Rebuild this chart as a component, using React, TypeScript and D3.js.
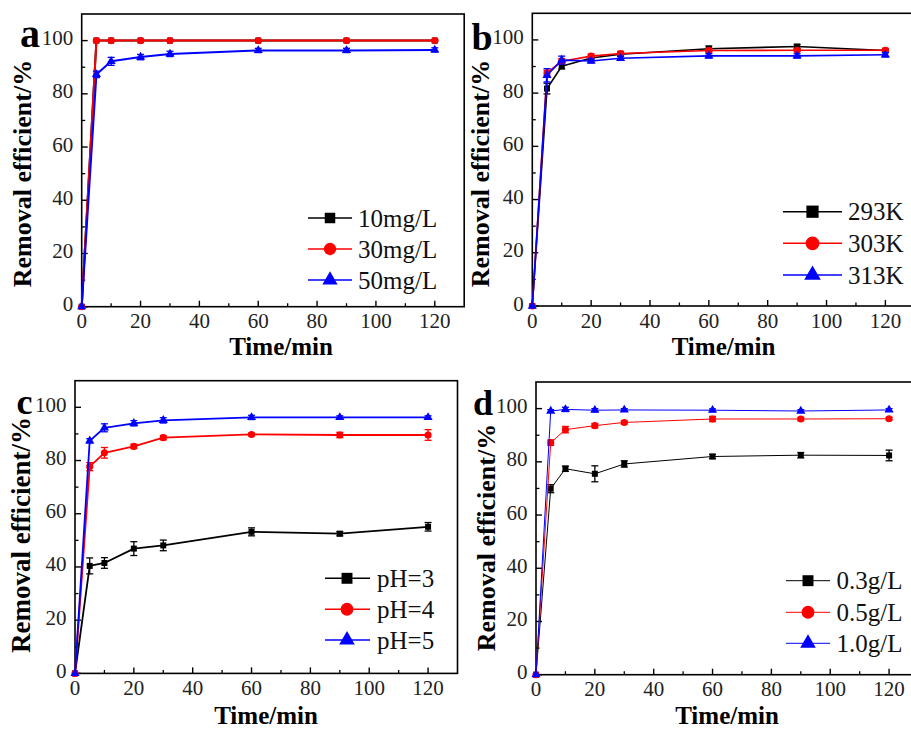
import React from "react";
import * as d3 from "d3";

// ---------- data ----------
const TIMES = [0, 5, 10, 20, 30, 60, 90, 120];
const X_TICKS = [0, 20, 40, 60, 80, 100, 120];
const X_MINOR = [10, 30, 50, 70, 90, 110];
const Y_TICKS = [0, 20, 40, 60, 80, 100];
const Y_MINOR = [10, 30, 50, 70, 90];
const PANEL_LETTERS = ["a", "b", "c", "d"];
const X_TITLE = "Time/min";
const Y_TITLE = "Removal efficient/%";

const A_LABELS = ["10mg/L", "30mg/L", "50mg/L"];
const A_10 = [0, 100, 100, 100, 100, 100, 100, 100];
const A_30 = [0, 100, 100, 100, 100, 100, 100, 100];
const A_50 = [0, 87.3, 92.2, 93.8, 95.0, 96.3, 96.3, 96.5];
const A_10_ERR = [0, 0.3, 0.3, 0.3, 0.3, 0.3, 0.3, 0.3];
const A_30_ERR = [0, 0.3, 0.3, 0.3, 0.3, 0.3, 0.3, 0.3];
const A_50_ERR = [0, 1.2, 1.5, 1.0, 1.0, 0.8, 0.8, 0.8];

const B_LABELS = ["293K", "303K", "313K"];
const B_293 = [0, 81.7, 90.1, 93.2, 94.6, 96.7, 97.5, 96.0];
const B_303 = [0, 87.6, 92.0, 93.9, 94.9, 96.0, 96.1, 96.1];
const B_313 = [0, 86.7, 92.4, 92.1, 93.1, 94.0, 94.0, 94.4];
const B_293_ERR = [0, 2.0, 1.0, 0.8, 0.8, 1.0, 0.8, 0.5];
const B_303_ERR = [0, 1.0, 1.0, 0.8, 0.8, 0.8, 0.5, 0.5];
const B_313_ERR = [0, 2.5, 1.5, 0.8, 0.8, 0.8, 0.8, 0.8];

const C_LABELS = ["pH=3", "pH=4", "pH=5"];
const C_3 = [0, 40.4, 41.5, 46.9, 48.1, 53.2, 52.5, 55.1];
const C_4 = [0, 77.7, 82.9, 85.3, 88.6, 89.8, 89.6, 89.6];
const C_5 = [0, 87.4, 92.3, 94.0, 95.1, 96.2, 96.2, 96.2];
const C_3_ERR = [0, 3.0, 2.0, 2.6, 2.0, 1.5, 0.8, 1.6];
const C_4_ERR = [0, 1.5, 2.0, 0.8, 0.8, 0.5, 1.0, 2.0];
const C_5_ERR = [0, 0.8, 1.5, 1.0, 1.0, 0.8, 0.6, 0.6];

const D_LABELS = ["0.3g/L", "0.5g/L", "1.0g/L"];
const D_03 = [0, 69.9, 77.4, 75.5, 79.2, 82.0, 82.5, 82.4];
const D_05 = [0, 87.2, 92.1, 93.6, 94.8, 96.1, 96.1, 96.2];
const D_10 = [0, 99.1, 99.7, 99.4, 99.5, 99.4, 99.1, 99.5];
const D_03_ERR = [0, 1.5, 1.0, 3.0, 1.2, 0.8, 1.0, 2.0];
const D_05_ERR = [0, 1.0, 1.2, 0.8, 0.6, 1.0, 0.6, 0.5];
const D_10_ERR = [0, 0.5, 0.8, 0.6, 0.5, 0.5, 0.5, 0.5];

// ---------- styling / layout ----------
const COLORS = ["#000000", "#ff0000", "#0000ff"];
const SYMBOLS = [d3.symbolSquare, d3.symbolCircle, d3.symbolTriangle];
const DATA_SYMBOL_SIZE = [36, 40, 36];
const SERIF = "'Liberation Serif', 'Times New Roman', serif";

const PANELS = [
  {
    letter: PANEL_LETTERS[0], labels: A_LABELS,
    values: [A_10, A_30, A_50], errors: [A_10_ERR, A_30_ERR, A_50_ERR],
    left: 81.7, top: 14, lw: 2, legLW: 1.6,
    letterX: 20, letterY: 47, letterSize: 40,
    yTitleX: 31, yTitleY: 173.5, yTitleSize: 26,
    xTitleX: 281, xTitleY: 355,
    legX0: 308, legX1: 352, legMarkX: 330, legTextX: 358, legY: [218, 249, 280], legSym: [110, 120, 100],
  },
  {
    letter: PANEL_LETTERS[1], labels: B_LABELS,
    values: [B_293, B_303, B_313], errors: [B_293_ERR, B_303_ERR, B_313_ERR],
    left: 532.3, top: 13.3, lw: 1.6, legLW: 1.6,
    letterX: 471.5, letterY: 49.5, letterSize: 38,
    yTitleX: 489, yTitleY: 173.5, yTitleSize: 26,
    xTitleX: 723.5, xTitleY: 355,
    legX0: 783, legX1: 842, legMarkX: 812.5, legTextX: 848, legY: [211.7, 243.3, 275], legSym: [150, 150, 120],
  },
  {
    letter: PANEL_LETTERS[2], labels: C_LABELS,
    values: [C_3, C_4, C_5], errors: [C_3_ERR, C_4_ERR, C_5_ERR],
    left: 75, top: 380.7, lw: 1.8, legLW: 1.6,
    letterX: 16.5, letterY: 413.5, letterSize: 36,
    yTitleX: 30, yTitleY: 535, yTitleSize: 27,
    xTitleX: 266, xTitleY: 724,
    legX0: 325, legX1: 370, legMarkX: 347, legTextX: 377, legY: [578.3, 609.3, 640], legSym: [120, 130, 105],
  },
  {
    letter: PANEL_LETTERS[3], labels: D_LABELS,
    values: [D_03, D_05, D_10], errors: [D_03_ERR, D_05_ERR, D_10_ERR],
    left: 536, top: 382, lw: 1, legLW: 1,
    letterX: 473, letterY: 415, letterSize: 36,
    yTitleX: 495, yTitleY: 537.5, yTitleSize: 26,
    xTitleX: 727, xTitleY: 724,
    legX0: 786, legX1: 830, legMarkX: 808, legTextX: 836.5, legY: [580.7, 612.3, 643.3], legSym: [120, 130, 105],
  },
];

const PW = 382.5;
const PH = 292.7;

function Panel({ p }: { p: (typeof PANELS)[number] }) {
  const x = d3.scaleLinear().domain([0, 130]).range([p.left, p.left + PW]);
  const y = d3.scaleLinear().domain([0, 110]).range([p.top + PH, p.top]);
  const bottom = p.top + PH;
  const line = d3
    .line<number>()
    .x((_, i) => x(TIMES[i]))
    .y((v) => y(v));

  return (
    <g>
      {/* frame */}
      <rect x={p.left} y={p.top} width={PW} height={PH} fill="none" stroke="#000" strokeWidth={1.6} />
      {/* x ticks */}
      {X_TICKS.map((t) => (
        <g key={"xt" + t}>
          <line x1={x(t)} x2={x(t)} y1={bottom} y2={bottom - 6} stroke="#000" strokeWidth={1.4} />
          <text x={x(t)} y={bottom + 21.5} textAnchor="middle" fontFamily={SERIF} fontSize={21} fill="#222">
            {t}
          </text>
        </g>
      ))}
      {X_MINOR.map((t) => (
        <line key={"xm" + t} x1={x(t)} x2={x(t)} y1={bottom} y2={bottom - 3.5} stroke="#000" strokeWidth={1.3} />
      ))}
      {/* y ticks */}
      {Y_TICKS.map((t) => (
        <g key={"yt" + t}>
          <line x1={p.left} x2={p.left + 6} y1={y(t)} y2={y(t)} stroke="#000" strokeWidth={1.4} />
          <text x={p.left - 8.5} y={y(t) + 4.5} textAnchor="end" fontFamily={SERIF} fontSize={21} fill="#222">
            {t}
          </text>
        </g>
      ))}
      {Y_MINOR.map((t) => (
        <line key={"ym" + t} x1={p.left} x2={p.left + 3.5} y1={y(t)} y2={y(t)} stroke="#000" strokeWidth={1.3} />
      ))}
      {/* titles */}
      <text x={p.letterX} y={p.letterY} fontFamily={SERIF} fontWeight="bold" fontSize={p.letterSize} fill="#000">
        {p.letter}
      </text>
      <text
        transform={`translate(${p.yTitleX},${p.yTitleY}) rotate(-90)`}
        textAnchor="middle"
        fontFamily={SERIF}
        fontWeight="bold"
        fontSize={p.yTitleSize}
        fill="#000"
      >
        {Y_TITLE}
      </text>
      <text x={p.xTitleX} y={p.xTitleY} textAnchor="middle" fontFamily={SERIF} fontWeight="bold" fontSize={25} fill="#000">
        {X_TITLE}
      </text>
      {/* series */}
      {p.values.map((vals, si) => (
        <g key={"s" + si}>
          <path d={line(vals) || ""} fill="none" stroke={COLORS[si]} strokeWidth={p.lw} strokeLinejoin="round" />
          {vals.map((v, i) => {
            const e = p.errors[si][i];
            const cx = x(TIMES[i]);
            return (
              <g key={"e" + i}>
                {e > 0 && (
                  <g stroke={COLORS[si]} strokeWidth={1.3}>
                    <line x1={cx} x2={cx} y1={y(v - e)} y2={y(v + e)} />
                    <line x1={cx - 3.5} x2={cx + 3.5} y1={y(v - e)} y2={y(v - e)} />
                    <line x1={cx - 3.5} x2={cx + 3.5} y1={y(v + e)} y2={y(v + e)} />
                  </g>
                )}
                <path
                  transform={`translate(${cx},${y(v)})`}
                  d={d3.symbol().type(SYMBOLS[si]).size(DATA_SYMBOL_SIZE[si])() || ""}
                  fill={COLORS[si]}
                />
              </g>
            );
          })}
        </g>
      ))}
      {/* legend */}
      {p.labels.map((lab, si) => (
        <g key={"l" + si}>
          <line x1={p.legX0} x2={p.legX1} y1={p.legY[si]} y2={p.legY[si]} stroke={COLORS[si]} strokeWidth={p.legLW} />
          <path
            transform={`translate(${p.legMarkX},${p.legY[si]})`}
            d={d3.symbol().type(SYMBOLS[si]).size(p.legSym[si])() || ""}
            fill={COLORS[si]}
          />
          <text x={p.legTextX} y={p.legY[si] + 8.5} fontFamily={SERIF} fontSize={25} fill="#111">
            {lab}
          </text>
        </g>
      ))}
    </g>
  );
}

export default function App() {
  return (
    <svg
      width={911}
      height={729}
      style={{ position: "absolute", left: 0, top: 0, background: "#fff" }}
      xmlns="http://www.w3.org/2000/svg"
    >
      <rect x={0} y={0} width={911} height={729} fill="#fff" />
      {PANELS.map((p) => (
        <Panel key={p.letter} p={p} />
      ))}
    </svg>
  );
}
